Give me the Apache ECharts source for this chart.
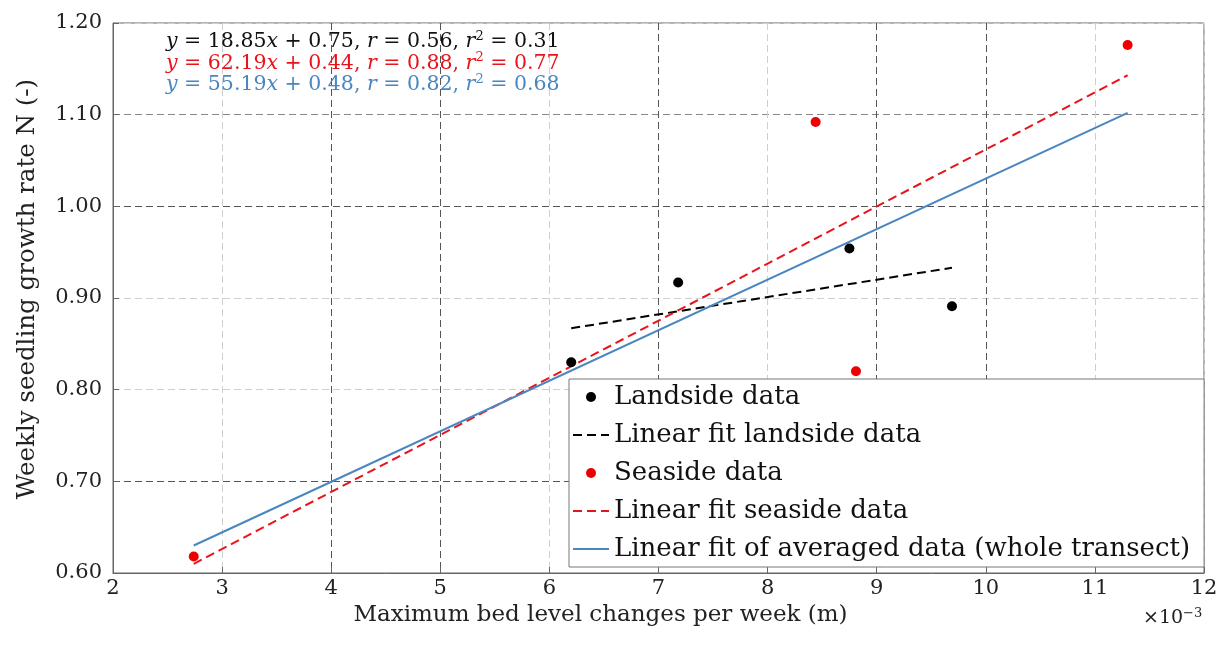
<!DOCTYPE html>
<html><head><meta charset="utf-8">
<script src="https://cdn.jsdelivr.net/npm/echarts@6/dist/echarts.min.js"></script>
<style>html,body{margin:0;padding:0;background:#fff}#c{width:1228px;height:657px}</style>
</head><body><div id="c"></div>
<script>
// ---- data (x in units of 1e-3 m) ----
const landsideX = [6.20, 7.18, 8.75, 9.69];
const landsideY = [0.830, 0.917, 0.954, 0.891];
const seasideX = [2.74, 8.44, 8.81, 11.30];
const seasideY = [0.618, 1.092, 0.820, 1.176];
const landFitX = [6.20, 9.69];
const landFitY = [0.867, 0.933];
const seaFitX = [2.74, 11.30];
const seaFitY = [0.610, 1.143];
const avgFitX = [2.74, 11.30];
const avgFitY = [0.630, 1.102];
const seriesNames = ['Landside data', 'Linear fit landside data', 'Seaside data', 'Linear fit seaside data', 'Linear fit of averaged data (whole transect)'];
const eqLines = [
  '{i|y} = 18.85{i|x} + 0.75, {i|r} = 0.56, {i|r}{s|2} = 0.31',
  '{i|y} = 62.19{i|x} + 0.44, {i|r} = 0.88, {i|r}{s|2} = 0.77',
  '{i|y} = 55.19{i|x} + 0.48, {i|r} = 0.82, {i|r}{s|2} = 0.68'
];
const eqColors = ['#111111', '#e8141c', '#4a86bf'];
const xAxisName = 'Maximum bed level changes per week (m)';
const yAxisName = 'Weekly seedling growth rate N (-)';

const FONT = 'DejaVu Serif';
const pts = (xs, ys) => xs.map((x, i) => [x, ys[i]]);
const D = '#555', L = '#cfcfcf';
const NOFILL = 'rgba(0,0,0,0)';

const chart = echarts.init(document.getElementById('c'), null, {renderer: 'canvas'});
const eqRich = (c) => ({
  i: {fontStyle: 'italic', fontFamily: FONT, fontSize: 20.5, color: c},
  s: {fontStyle: 'normal', fontFamily: FONT, fontSize: 13, color: c, verticalAlign: 'top', padding: [0, 0, 11, 0]}
});
chart.setOption({
  animation: false,
  backgroundColor: '#fff',
  title: eqLines.map((t, k) => ({
    text: t, left: 166, top: 30 + k * 21.5, padding: 0,
    textStyle: {fontFamily: FONT, fontSize: 20.5, fontWeight: 'normal', color: eqColors[k], rich: eqRich(eqColors[k])}
  })),
  grid: {left: 113, right: 24, top: 23, bottom: 84, show: true, borderColor: '#666', borderWidth: 1, containLabel: false},
  xAxis: {
    type: 'value', min: 2, max: 12, interval: 1,
    name: xAxisName, nameLocation: 'middle', nameGap: 28,
    nameTextStyle: {fontFamily: FONT, fontSize: 23, color: '#222', padding: [0, 116, 0, 0]},
    axisLine: {show: true, lineStyle: {color: '#666'}},
    axisTick: {show: true, inside: true, length: 6, lineStyle: {color: '#666'}},
    axisLabel: {fontFamily: FONT, fontSize: 21, color: '#222', margin: 5},
    splitLine: {show: true, lineStyle: {type: [7, 4], width: 1, color: [L, L, D, D, L, D, L, D, D, L, L]}}
  },
  yAxis: {
    type: 'value', min: 0.6, max: 1.2, interval: 0.1,
    name: yAxisName, nameLocation: 'middle', nameGap: 73,
    nameTextStyle: {fontFamily: FONT, fontSize: 24.5, color: '#222', padding: [0, 0, 0, 18]},
    axisLine: {show: true, lineStyle: {color: '#666'}},
    axisTick: {show: true, inside: true, length: 6, lineStyle: {color: '#666'}},
    axisLabel: {fontFamily: FONT, fontSize: 21, color: '#222', margin: 11, formatter: v => v.toFixed(2)},
    splitLine: {show: true, lineStyle: {type: [7, 4], width: 1, color: [L, D, L, L, D, '#888', L]}}
  },
  legend: {
    orient: 'vertical', left: 569, top: 379,
    data: seriesNames,
    backgroundColor: '#fff', borderColor: '#777', borderWidth: 1,
    padding: [5, 14, 5, 3], itemGap: 12, itemWidth: 36, itemHeight: 10,
    textStyle: {fontFamily: FONT, fontSize: 26, color: '#111'}
  },
  graphic: [{
    type: 'text', left: 1143, top: 607,
    style: {text: '×10{s|−3}', font: '19px "DejaVu Serif"', fill: '#222',
      rich: {s: {fontSize: 13, fontFamily: FONT, fill: '#222', verticalAlign: 'top', padding: [0, 0, 10, 0]}}}
  }],
  series: [
    {name: seriesNames[0], type: 'scatter', data: pts(landsideX, landsideY), symbolSize: 10, itemStyle: {color: '#000', opacity: 1}, z: 5},
    {name: seriesNames[1], type: 'line', data: pts(landFitX, landFitY), symbol: 'none', itemStyle: {color: NOFILL}, lineStyle: {color: '#000', width: 2, type: [9, 5]}},
    {name: seriesNames[2], type: 'scatter', data: pts(seasideX, seasideY), symbolSize: 10, itemStyle: {color: '#ee0000', opacity: 1}, z: 5},
    {name: seriesNames[3], type: 'line', data: pts(seaFitX, seaFitY), symbol: 'none', itemStyle: {color: NOFILL}, lineStyle: {color: '#e8141c', width: 2, type: [9, 5]}},
    {name: seriesNames[4], type: 'line', data: pts(avgFitX, avgFitY), symbol: 'none', itemStyle: {color: NOFILL}, lineStyle: {color: '#4a86bf', width: 2}}
  ]
});
</script></body></html>
